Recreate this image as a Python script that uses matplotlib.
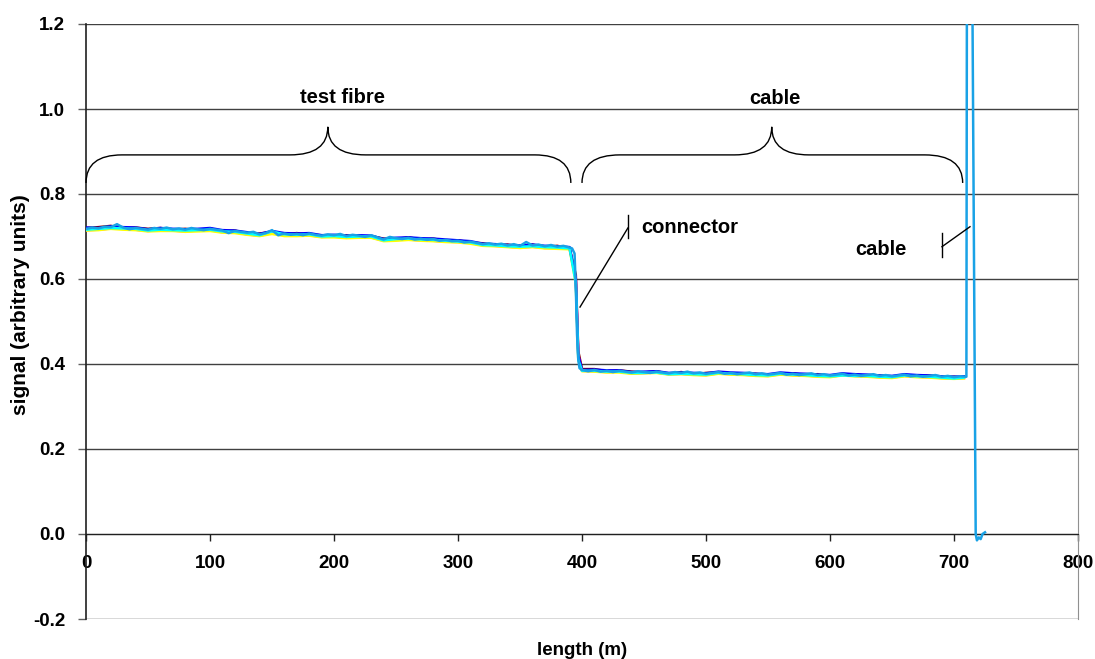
import numpy as np
import matplotlib
matplotlib.use("Agg")
import matplotlib.pyplot as plt
from matplotlib.path import Path
from matplotlib.patches import PathPatch

plt.rcParams['font.family'] = ['Liberation Sans', 'DejaVu Sans']
plt.rcParams['font.weight'] = 'bold'

# ---------------- data ----------------
# main (top, light blue) trace, 5 m sampling
main_fibre_x = np.arange(0, 395, 5)
main_fibre_y = [.718, .721, .719, .723, .722, .729, .721, .717, .72, .718,
                .716, .72, .718, .721, .717, .719, .716, .72, .717, .715,
                .718, .716, .714, .708, .713, .711, .709, .711, .705, .708,
                .715, .703, .707, .704, .706, .703, .707, .704, .702, .705,
                .703, .706, .701, .704, .702, .699, .703, .698, .693, .699,
                .696, .694, .697, .693, .695, .692, .694, .69, .692, .689,
                .69, .686, .688, .685, .682, .684, .681, .683, .679, .682,
                .678, .687, .679, .681, .677, .68, .676, .678, .674]
main_drop_x = [392, 394, 395, 396, 397, 398, 400]
main_drop_y = [.672, .66, .58, .47, .41, .39, .386]
main_cable_x = np.arange(405, 710, 5)
main_cable_y = [.383, .386, .382, .384, .381, .384, .382, .38, .383, .381,
                .379, .382, .38, .378, .381, .379, .382, .378, .38, .377,
                .379, .381, .377, .379, .376, .378, .38, .376, .378, .375,
                .377, .379, .375, .377, .374, .376, .378, .374, .376, .373,
                .375, .377, .373, .375, .372, .374, .376, .372, .374, .371,
                .373, .375, .371, .373, .37, .372, .374, .37, .372, .369, .371]
main_end_x = [710, 711, 712, 717.5, 718.5, 720, 721.5, 723, 725]
main_end_y = [.37, 2.6, 2.6, 0.0, -.015, -.008, -.012, 0.0, .004]

# other overlapping traces, 10 m sampling
fibre_x = np.arange(0, 400, 10)
drop_x = [395, 397, 400]
cable_x = list(range(410, 710, 10)) + [708]

darkred_fibre = [.72, .722, .725, .72, .721, .718, .72, .716, .718, .715,
                 .719, .712, .714, .707, .707, .711, .705, .708, .704, .703,
                 .701, .703, .7, .701, .695, .694, .698, .693, .695, .69,
                 .691, .686, .684, .679, .681, .676, .681, .675, .678, .672]
darkred_drop = [.61, .43, .388]
darkred_cable = [.388, .383, .385, .382, .38, .383, .377, .381, .376, .379,
                 .38, .378, .376, .377, .374, .377, .378, .374, .376, .372,
                 .375, .376, .372, .373, .37, .374, .371, .373, .369, .37, .368]

magenta_fibre = [.715, .716, .719, .718, .716, .713, .715, .714, .712, .714,
                 .715, .71, .71, .705, .702, .708, .703, .702, .703, .699,
                 .7, .697, .699, .698, .69, .692, .693, .691, .69, .688,
                 .687, .685, .679, .678, .676, .674, .676, .673, .673, .671]
magenta_drop = [.6, .42, .384]
magenta_cable = [.383, .381, .382, .378, .379, .38, .376, .377, .375, .374,
                 .378, .376, .375, .373, .372, .376, .374, .373, .371, .37,
                 .374, .372, .371, .369, .368, .372, .37, .369, .367, .366, .367]

yellow_fibre = [.714, .715, .718, .716, .715, .712, .713, .713, .711, .712,
                .713, .709, .708, .704, .701, .706, .701, .701, .702, .698,
                .698, .696, .697, .697, .689, .69, .692, .69, .689, .687,
                .686, .683, .678, .677, .675, .673, .675, .672, .671, .67]
yellow_drop = [.59, .41, .383]
yellow_cable = [.382, .38, .38, .377, .378, .379, .375, .376, .374, .373,
                .377, .375, .374, .372, .371, .375, .373, .372, .37, .369,
                .373, .371, .37, .368, .367, .371, .369, .368, .366, .365, .366]

blue_fibre = [.721, .72, .724, .722, .721, .717, .72, .718, .717, .718,
              .72, .715, .714, .71, .706, .713, .708, .707, .708, .703,
              .704, .702, .703, .702, .694, .697, .698, .696, .695, .693,
              .691, .689, .683, .682, .68, .679, .681, .678, .677, .675]
blue_drop = [.6, .42, .386]
blue_cable = [.387, .385, .385, .381, .382, .383, .379, .38, .379, .378,
              .382, .38, .379, .377, .376, .38, .378, .377, .375, .374,
              .378, .376, .375, .373, .372, .376, .374, .373, .371, .37, .371]

cyan_fibre = [.716, .718, .72, .719, .718, .714, .716, .715, .714, .715,
              .716, .712, .711, .707, .703, .712, .705, .704, .705, .7,
              .701, .699, .7, .7, .691, .694, .695, .693, .692, .69,
              .688, .686, .68, .679, .677, .676, .677, .675, .674, .672]
cyan_drop = [.59, .41, .384]
cyan_cable = [.384, .382, .382, .379, .379, .38, .376, .377, .376, .375,
              .379, .377, .376, .374, .373, .377, .375, .374, .372, .371,
              .373, .372, .372, .37, .369, .373, .371, .37, .368, .366, .368]

x_ticks = [0, 100, 200, 300, 400, 500, 600, 700, 800]
y_ticks = [-0.2, 0.0, 0.2, 0.4, 0.6, 0.8, 1.0, 1.2]

# ---------------- figure ----------------
fig = plt.figure(figsize=(10.95, 6.59), dpi=100)
ax = fig.add_axes([86/1095, 1-619/659, (1078-86)/1095, (619-24)/659])
ax.set_xlim(0, 800)
ax.set_ylim(-0.2, 1.2)

for yv in y_ticks:
    ax.axhline(yv, color='#404040', lw=1.0, zorder=1)

others = [
    ('#800000', darkred_fibre, darkred_drop, darkred_cable),
    ('#FF00FF', magenta_fibre, magenta_drop, magenta_cable),
    ('#FFFF00', yellow_fibre, yellow_drop, yellow_cable),
    ('#0000FF', blue_fibre, blue_drop, blue_cable),
    ('#00FFFF', cyan_fibre, cyan_drop, cyan_cable),
]
for col, f, d, c in others:
    xs = list(fibre_x) + drop_x + cable_x
    ys = f + d + c
    ax.plot(xs, ys, color=col, lw=1.8, zorder=3)

mx = list(main_fibre_x) + main_drop_x + list(main_cable_x) + main_end_x
my = main_fibre_y + main_drop_y + main_cable_y + main_end_y
ax.plot(mx, my, color='#19A2E6', lw=1.8, zorder=4)

# spines
ax.spines['top'].set_visible(False)
ax.spines['right'].set_color('#909090')
ax.spines['bottom'].set_position(('data', 0))
ax.spines['bottom'].set_color('#202020')
ax.spines['left'].set_color('#202020')
ax.spines['left'].set_linewidth(1.2)

ax.set_xticks(x_ticks)
ax.set_xticklabels([str(v) for v in x_ticks])
ax.set_yticks(y_ticks)
ax.set_yticklabels([f"{v:.1f}" for v in y_ticks])
ax.tick_params(axis='x', direction='out', length=5, width=1, pad=10,
               labelsize=13.5, color='#202020')
ax.tick_params(axis='y', direction='out', length=6, width=1, pad=9,
               labelsize=13.5, color='#606060')
for lab in ax.get_xticklabels() + ax.get_yticklabels():
    lab.set_fontweight('bold')

fig.text(582/1095, 1-642/659, 'length (m)', ha='center', va='top',
         fontsize=13.5, fontweight='bold')
fig.text(21/1095, 1-305/659, 'signal (arbitrary units)', ha='center',
         va='center', rotation=90, fontsize=15, fontweight='bold')

# ---------------- annotations ----------------
def brace(x0, x1, xa, xb, xp, y_end, y_h, y_peak):
    verts = [(x0, y_end), (x0, y_h), (xa, y_h),
             (xb, y_h), (xp, y_h), (xp, y_peak),
             (xp, y_h), (2 * xp - xb, y_h),
             (x1 - (xa - x0), y_h), (x1, y_h), (x1, y_end)]
    codes = [Path.MOVETO, Path.CURVE3, Path.CURVE3,
             Path.LINETO, Path.CURVE3, Path.CURVE3,
             Path.CURVE3, Path.CURVE3,
             Path.LINETO, Path.CURVE3, Path.CURVE3]
    ax.add_patch(PathPatch(Path(verts, codes), fill=False, lw=1.0,
                           color='black', zorder=5, clip_on=False))

brace(0, 391, 29, 164.5, 195, 0.826, 0.892, 0.958)
brace(400, 707, 430.6, 523, 553, 0.826, 0.892, 0.958)

ax.text(207, 1.028, 'test fibre', ha='center', va='center', fontsize=14.5,
        fontweight='bold', zorder=6)
ax.text(555.6, 1.024, 'cable', ha='center', va='center', fontsize=14.5,
        fontweight='bold', zorder=6)
ax.text(447.6, 0.72, 'connector', ha='left', va='center', fontsize=14.5,
        fontweight='bold', zorder=6)
ax.text(620, 0.67, 'cable', ha='left', va='center', fontsize=14.5,
        fontweight='bold', zorder=6)

# callouts
ax.plot([437, 437], [0.751, 0.696], color='black', lw=1.0, zorder=6)
ax.plot([437, 398.4], [0.72, 0.534], color='black', lw=1.0, zorder=6)
ax.plot([690.3, 690.3], [0.708, 0.652], color='black', lw=1.0, zorder=6)
ax.plot([690.3, 712.9], [0.676, 0.723], color='black', lw=1.0, zorder=6)

fig.savefig('out.png', dpi=100)
